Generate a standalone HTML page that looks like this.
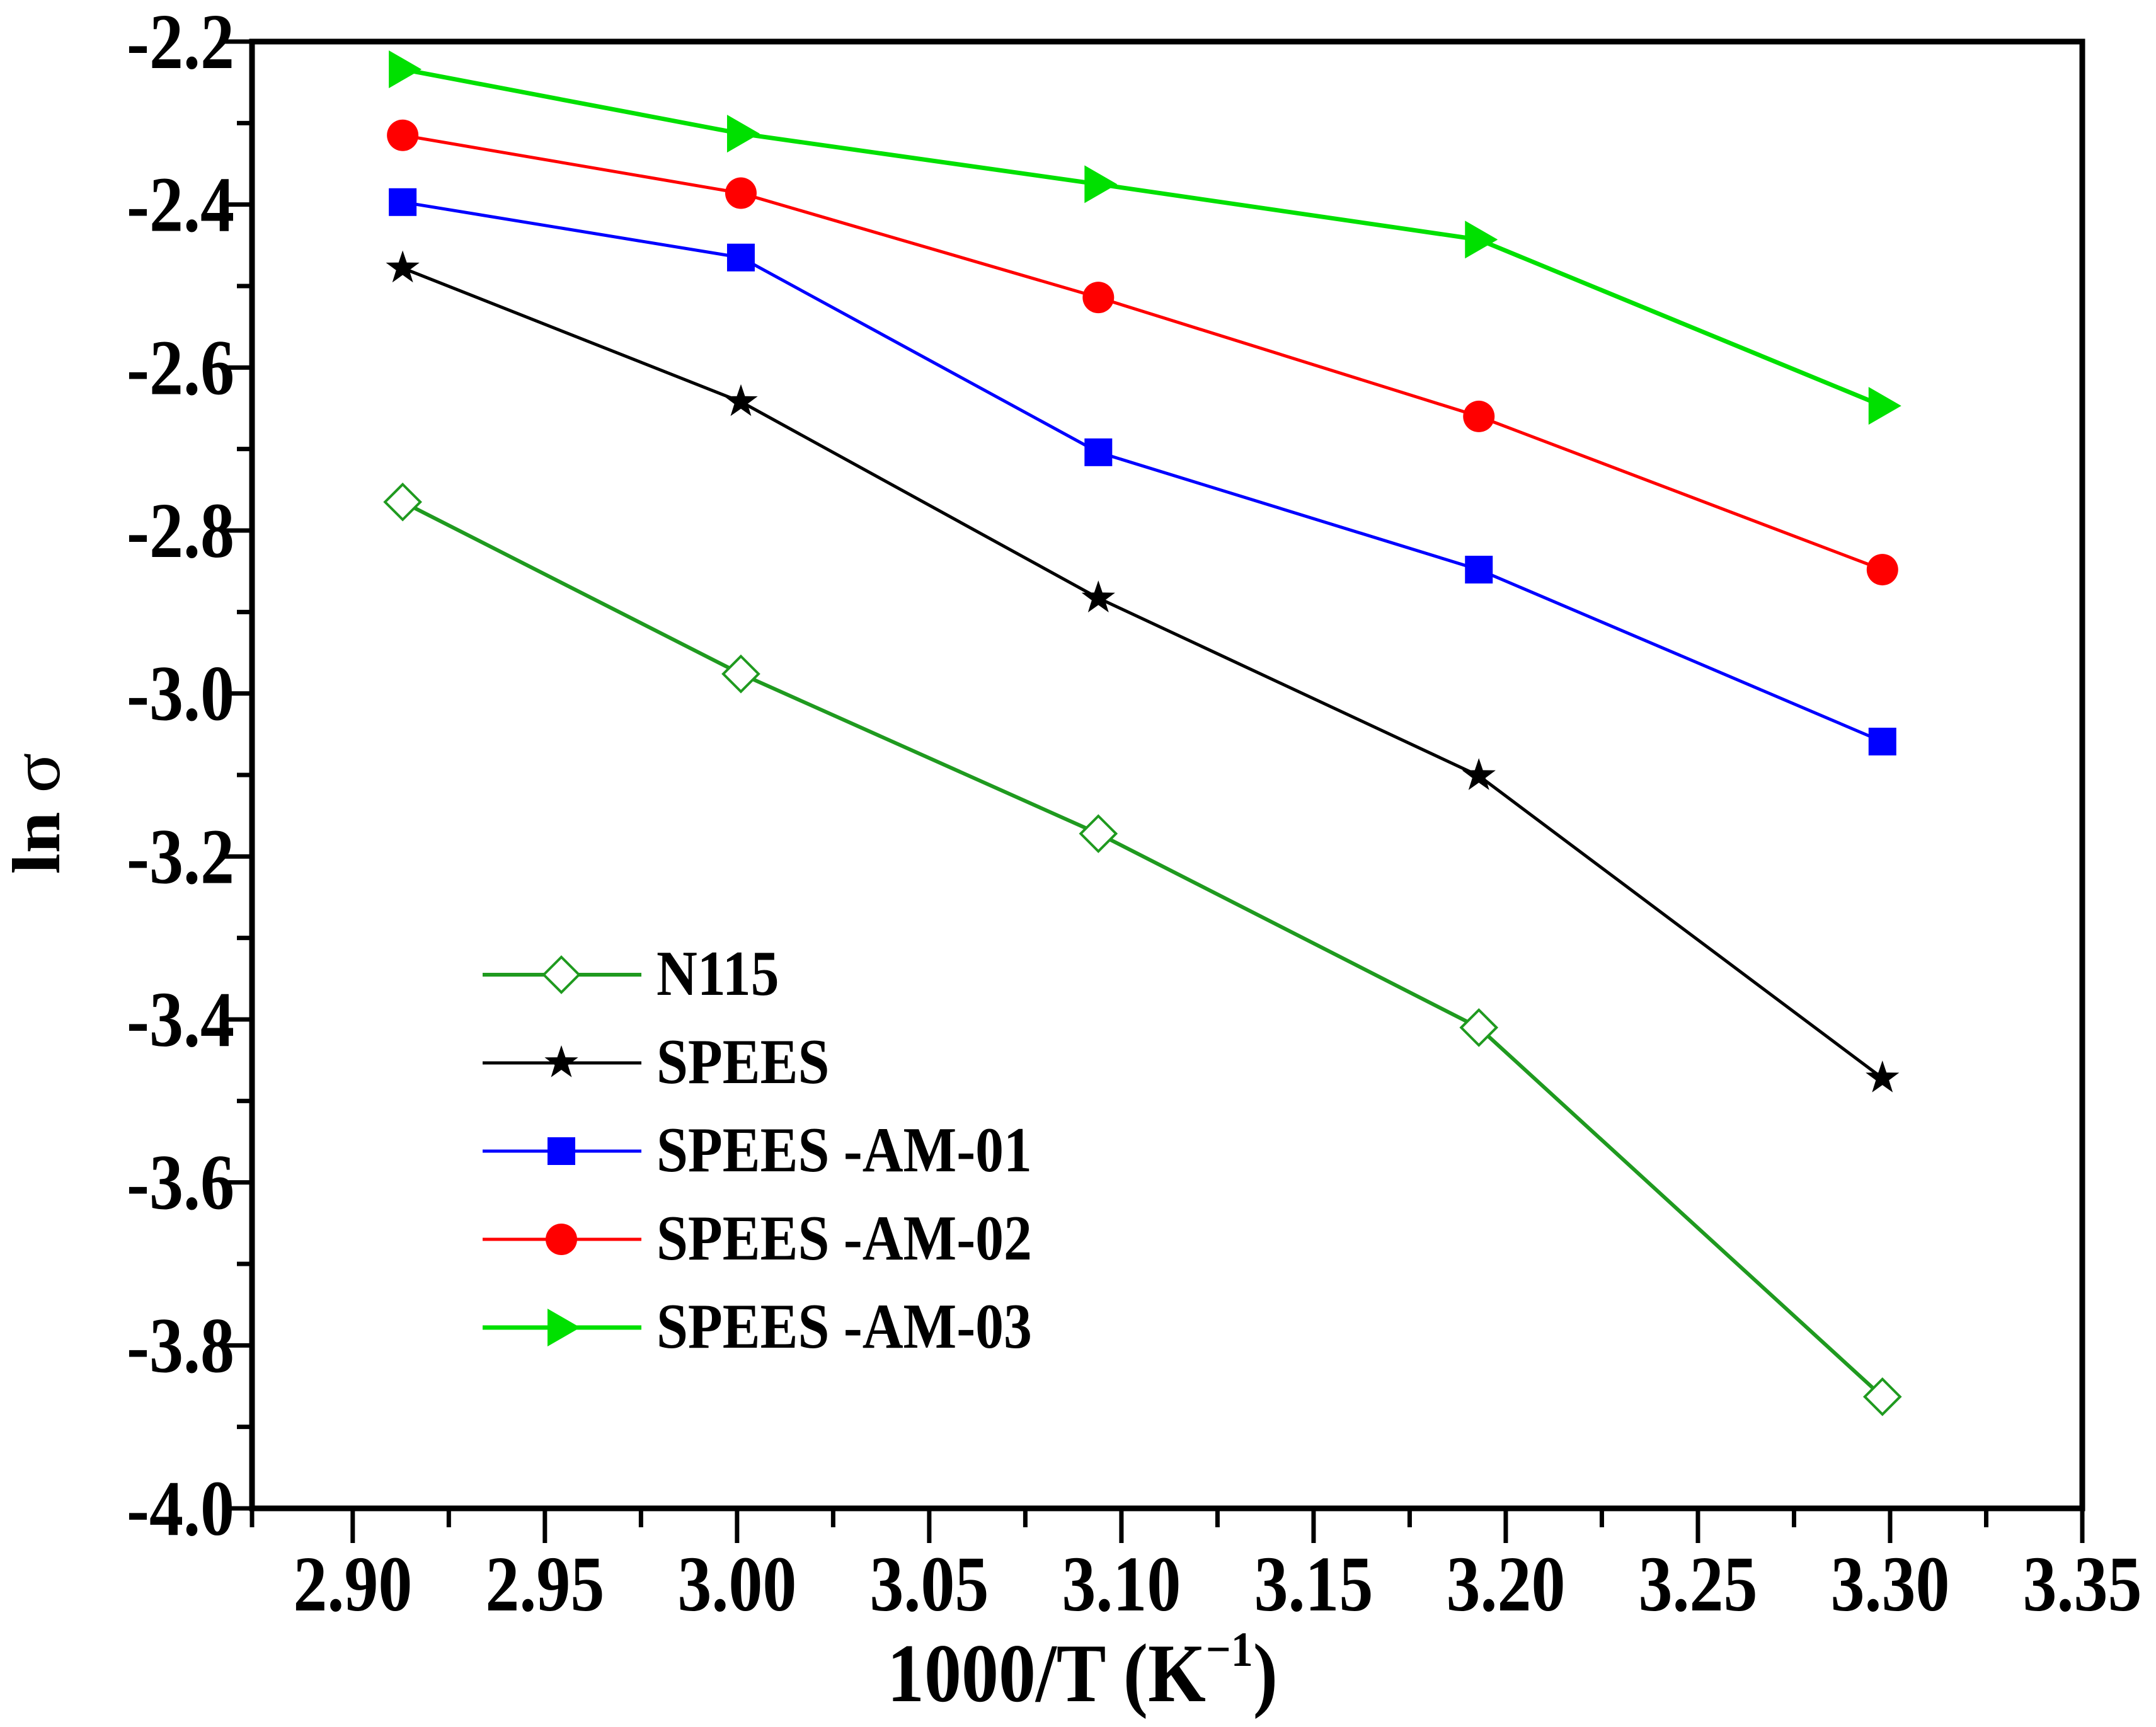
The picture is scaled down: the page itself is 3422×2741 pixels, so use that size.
<!DOCTYPE html>
<html><head><meta charset="utf-8"><style>
html,body{margin:0;padding:0;background:#fff}
svg{display:block}
text{font-family:"Liberation Serif",serif;font-weight:bold;fill:#000}
</style></head><body>
<svg id="chart" width="3422" height="2741" viewBox="0 0 3422 2741" xmlns="http://www.w3.org/2000/svg">
<rect x="0" y="0" width="3422" height="2741" fill="#fff"/>
<g id="plot"></g>
</svg>
<script>
const xValues = [2.913, 3.001, 3.094, 3.193, 3.298];
const seriesNames = ["N115", "SPEES", "SPEES -AM-01", "SPEES -AM-02", "SPEES -AM-03"];
const n115 = [-2.765, -2.976, -3.172, -3.410, -3.863];
const spees = [-2.478, -2.642, -2.883, -3.101, -3.472];
const am01 = [-2.397, -2.465, -2.704, -2.848, -3.059];
const am02 = [-2.315, -2.386, -2.514, -2.660, -2.848];
const am03 = [-2.234, -2.313, -2.375, -2.443, -2.647];
const xTicks = [2.90, 2.95, 3.00, 3.05, 3.10, 3.15, 3.20, 3.25, 3.30, 3.35];
const xTickLabels = ["2.90","2.95","3.00","3.05","3.10","3.15","3.20","3.25","3.30","3.35"];
const yTicks = [-2.2, -2.4, -2.6, -2.8, -3.0, -3.2, -3.4, -3.6, -3.8, -4.0];
const yTickLabels = ["-2.2","-2.4","-2.6","-2.8","-3.0","-3.2","-3.4","-3.6","-3.8","-4.0"];

const NS = "http://www.w3.org/2000/svg";
const L = 400, R = 3305, T = 66, B = 2394;
const xMin = 2.8738, xMax = 3.35, yMin = -4.0, yMax = -2.2;
const sx = v => L + (v - xMin) / (xMax - xMin) * (R - L);
const sy = v => B - (v - yMin) / (yMax - yMin) * (B - T);
const g = document.getElementById('plot');
function mk(tag, attrs, parent) {
  const e = document.createElementNS(NS, tag);
  for (const k in attrs) e.setAttribute(k, attrs[k]);
  (parent || g).appendChild(e);
  return e;
}

const frame = mk('rect', {x: L, y: T, width: R - L, height: B - T, fill: 'none', stroke: '#000', 'stroke-width': 9});



xTicks.forEach((v, i) => {
  const x = sx(v);
  const t = mk('line', {x1: x, y1: B, x2: x, y2: B + 55, stroke: '#000', 'stroke-width': 7});
  
  
  if (i < xTicks.length - 1) {
    const xm = sx(v + 0.025);
    const m = mk('line', {x1: xm, y1: B, x2: xm, y2: B + 30, stroke: '#000', 'stroke-width': 7});
    
    
  }
  const lb = mk('text', {x: 0, y: 0, 'font-size': 108, 'text-anchor': 'middle', transform: `translate(${x},2556) scale(1,1.16)`});
  lb.textContent = xTickLabels[i];
  
  
});
mk('line', {x1: L, y1: B, x2: L, y2: B + 30, stroke: '#000', 'stroke-width': 7});

yTicks.forEach((v, i) => {
  const y = sy(v);
  const t = mk('line', {x1: L - 45, y1: y, x2: L, y2: y, stroke: '#000', 'stroke-width': 7});
  
  
  if (i < yTicks.length - 1) {
    const ym = sy(v - 0.1);
    const m = mk('line', {x1: L - 24, y1: ym, x2: L, y2: ym, stroke: '#000', 'stroke-width': 7});
    
    
  }
  const lb = mk('text', {x: 0, y: 0, 'font-size': 108, 'text-anchor': 'end', transform: `translate(372,${y + 42}) scale(1,1.16)`});
  lb.textContent = yTickLabels[i];
  
  
});

const xt = mk('text', {x: 0, y: 0, 'font-size': 118, 'text-anchor': 'middle', transform: 'translate(1718,2700) scale(1,1.12)'});
xt.innerHTML = '1000/T (K<tspan font-size="70" dy="-50">−1</tspan><tspan dy="50">)</tspan>';


const yt = mk('text', {x: 0, y: 0, 'font-size': 108, 'text-anchor': 'middle', transform: 'translate(94,1291) rotate(-90) scale(1.1,1)'});
yt.innerHTML = 'ln <tspan font-weight="normal">σ</tspan>';



function marker(type, color, x, y, parent) {
  const s = 24;
  let e;
  if (type === 'diamond') {
    e = mk('polygon', {points: `${x},${y-s-4} ${x+s+4},${y} ${x},${y+s+4} ${x-s-4},${y}`, fill: '#fff', stroke: color, 'stroke-width': 4}, parent);
  } else if (type === 'star') {
    let p = [];
    for (let k = 0; k < 10; k++) {
      const r = k % 2 ? 11 : 28, a = -Math.PI / 2 + k * Math.PI / 5;
      p.push((x + r * Math.cos(a)).toFixed(1) + ',' + (y + r * Math.sin(a)).toFixed(1));
    }
    e = mk('polygon', {points: p.join(' '), fill: color}, parent);
  } else if (type === 'square') {
    e = mk('rect', {x: x - 22, y: y - 22, width: 44, height: 44, fill: color}, parent);
  } else if (type === 'circle') {
    e = mk('circle', {cx: x, cy: y, r: 25, fill: color}, parent);
  } else {
    e = mk('polygon', {points: `${x-22},${y-30} ${x+30},${y} ${x-22},${y+30}`, fill: color}, parent);
  }
  return e;
}

const series = [
  {data: n115, color: '#1f9a1f', type: 'diamond', w: 6},
  {data: spees, color: '#000000', type: 'star', w: 5},
  {data: am01, color: '#0000ff', type: 'square', w: 5},
  {data: am02, color: '#ff0000', type: 'circle', w: 5},
  {data: am03, color: '#00e000', type: 'tri', w: 7}
];
series.forEach((s, si) => {
  const sg = mk('g', {});
  
  
  const pts = s.data.map((v, i) => sx(xValues[i]).toFixed(1) + ',' + sy(v).toFixed(1)).join(' ');
  const pl = mk('polyline', {points: pts, fill: 'none', stroke: s.color, 'stroke-width': s.w}, sg);
  
  
  s.data.forEach((v, i) => {
    const m = marker(s.type, s.color, sx(xValues[i]), sy(v), sg);
    
    
  });
  const ly = 1547 + si * 140;
  const lg = mk('g', {});
  
  
  mk('line', {x1: 766, y1: ly, x2: 1018, y2: ly, stroke: s.color, 'stroke-width': s.w}, lg);
  marker(s.type, s.color, 891, ly, lg);
  const lt = mk('text', {x: 0, y: 0, 'font-size': 88, transform: `translate(1042,${ly + 32}) scale(1.02,1.15)`}, lg);
  lt.textContent = seriesNames[si];
});
</script>
</body></html>
